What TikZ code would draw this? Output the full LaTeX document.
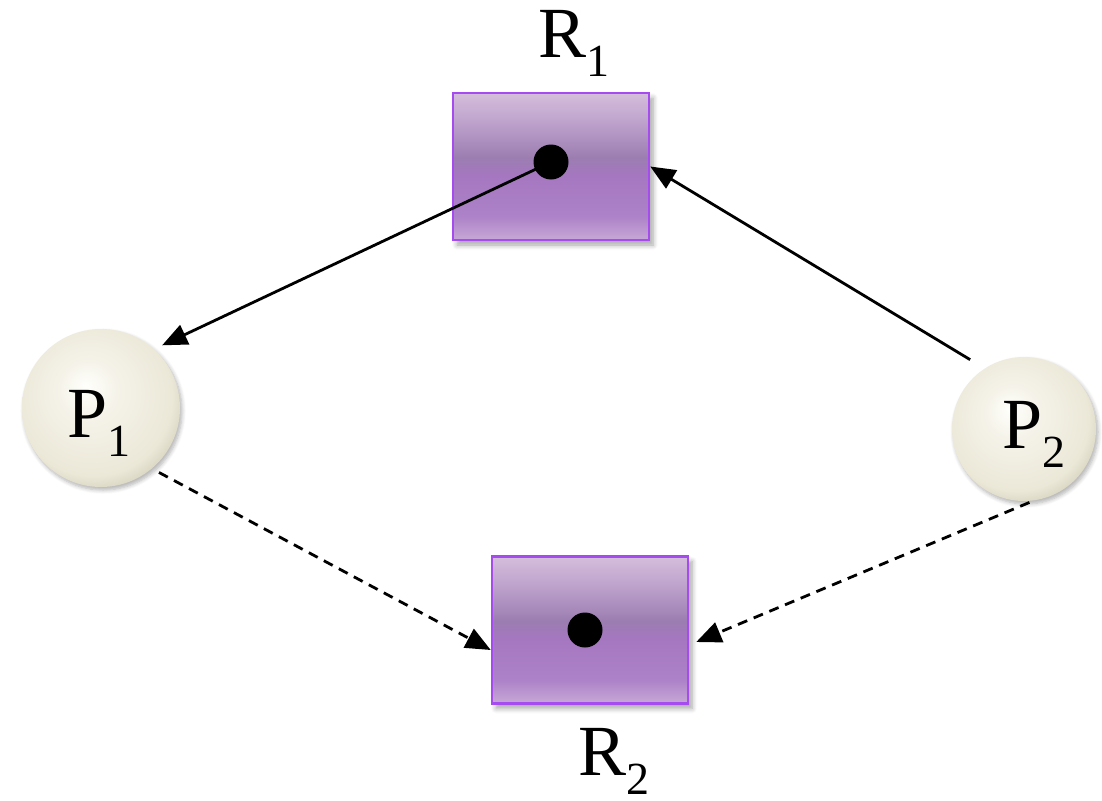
\documentclass[tikz,border=0pt]{standalone}
\usepackage{fontspec}
\setmainfont{Liberation Serif}
\usetikzlibrary{arrows.meta,shadows.blur}
\definecolor{bbot}{HTML}{C7A8D6}
\definecolor{blow}{HTML}{AD82C8}
\definecolor{bmid}{HTML}{A577C0}
\definecolor{bdark}{HTML}{9C7DB1}
\definecolor{bup}{HTML}{BB9FCA}
\definecolor{btop}{HTML}{D5BEDC}
\definecolor{bborder}{HTML}{A64BF0}
\definecolor{pw}{HTML}{FFFFFC}
\definecolor{pc}{HTML}{F5F3E9}
\definecolor{pc2}{HTML}{EBE8D8}
\definecolor{pe}{HTML}{D6D2BE}
\pgfdeclareverticalshading{boxshade}{100bp}{color(0bp)=(bbot); color(25bp)=(bbot); color(33bp)=(blow); color(47bp)=(bmid); color(53bp)=(bdark); color(64bp)=(bup); color(75bp)=(btop); color(100bp)=(btop)}
\pgfdeclareradialshading{ballshade}{\pgfpoint{-5bp}{7bp}}{color(0bp)=(pw); color(9bp)=(pc); color(25bp)=(pc2); color(30bp)=(pe); color(50bp)=(pe)}
\tikzset{
  resbox/.style={draw=bborder, line width=2.5pt, shading=boxshade, minimum width=196pt, minimum height=147pt, inner sep=0pt,
    blur shadow={shadow xshift=4pt, shadow yshift=-5pt, shadow blur radius=5pt, shadow blur steps=6, shadow opacity=35}},
  proc/.style={circle, shading=ballshade, inner sep=0pt,
    blur shadow={shadow xshift=2pt, shadow yshift=-3pt, shadow blur radius=4pt, shadow blur steps=6, shadow opacity=30}},
  dotmark/.style={circle, fill=black, minimum size=35pt, inner sep=0pt},
  lbl/.style={anchor=base west, inner sep=0pt, font=\fontsize{72}{80}\selectfont},
  conn/.style={line width=2.8pt, -{Triangle[length=25pt,width=21pt]}},
  dconn/.style={conn, dash pattern=on 10pt off 7pt}
}
\newcommand{\subs}[1]{\raisebox{-19pt}{\fontsize{46}{50}\selectfont #1}}
\begin{document}
\begin{tikzpicture}[x=1pt,y=-1pt]
\useasboundingbox (0,0) rectangle (1102,800);
\node[resbox] (r1) at (551,166.5) {};
\node[resbox] (r2) at (590,630) {};
\node[dotmark] (r1dot) at (551,162) {};
\node[dotmark] (r2dot) at (585,630) {};
\node[proc, minimum size=158pt] (p1) at (101,408) {};
\node[proc, minimum size=144pt] (p2) at (1024,429) {};
\node[lbl] (r1t) at (538,58) {R\subs{1}};
\node[lbl] (r2t) at (578,775) {R\subs{2}};
\node[lbl] (p1t) at (67,437) {P\subs{1}};
\node[lbl] (p2t) at (1002,448) {P\subs{2}};
\draw[conn, shorten >=9pt] (r1dot.center) -- (p1.48);
\draw[conn, shorten <=17pt] (p2.123) -- (r1.east);
\draw[dconn, shorten <=8pt] (p1.-50) -- ([yshift=-20pt]r2.west);
\draw[dconn, shorten <=5pt] (p2.-82) -- ([xshift=7pt,yshift=-12pt]r2.east);
\end{tikzpicture}
\end{document}
